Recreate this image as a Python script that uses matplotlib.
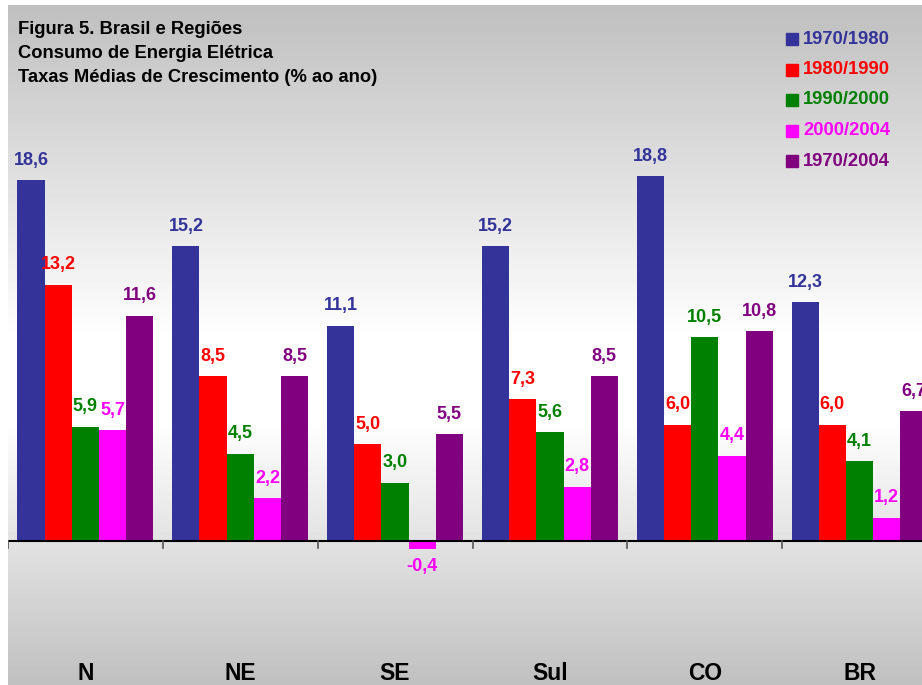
import numpy as np
import matplotlib
matplotlib.use("Agg")
import matplotlib.pyplot as plt
from matplotlib.patches import Rectangle

plt.rcParams['font.family'] = ['Liberation Sans', 'DejaVu Sans']

categories = ["N", "NE", "SE", "Sul", "CO", "BR"]
series_names = ["1970/1980", "1980/1990", "1990/2000", "2000/2004", "1970/2004"]
colors = ["#333399", "#FF0000", "#008000", "#FF00FF", "#800080"]
v_1970_1980 = [18.6, 15.2, 11.1, 15.2, 18.8, 12.3]
v_1980_1990 = [13.2, 8.5, 5.0, 7.3, 6.0, 6.0]
v_1990_2000 = [5.9, 4.5, 3.0, 5.6, 10.5, 4.1]
v_2000_2004 = [5.7, 2.2, -0.4, 2.8, 4.4, 1.2]
v_1970_2004 = [11.6, 8.5, 5.5, 8.5, 10.8, 6.7]
series = [v_1970_1980, v_1980_1990, v_1990_2000, v_2000_2004, v_1970_2004]
title_lines = ["Figura 5. Brasil e Regiões",
               "Consumo de Energia Elétrica",
               "Taxas Médias de Crescimento (% ao ano)"]

W, H = 922, 685
fig = plt.figure(figsize=(W / 100, H / 100), dpi=100)
fig.patch.set_facecolor("white")

# background gradient panel
bg = fig.add_axes([8 / W, 0, (W - 8) / W, (H - 5) / H])
bg.set_axis_off()
ys = np.arange(5, H)
grad = np.interp(ys, [5, 340, 420, H], [0.75, 1.0, 1.0, 0.75])
img = np.repeat(grad[:, None], 2, axis=1)
bg.imshow(img, cmap="gray", vmin=0, vmax=1, aspect="auto", extent=[0, 1, 0, 1])
bg.set_xlim(0, 1); bg.set_ylim(0, 1)

# main axes
zero_px = 541
ppu = 19.4
ax = fig.add_axes([8 / W, 0, (937 - 8) / W, (H - 5) / H])
ax.set_facecolor("none")
ax.set_xlim(0, 6)
ax.set_ylim(-(H - zero_px) / ppu, (zero_px - 5) / ppu)
for s in ["left", "right", "top", "bottom"]:
    ax.spines[s].set_visible(False)
ax.set_xticks([])
ax.set_yticks([])

bw = 0.1755
x0 = np.arange(len(categories)) + 0.5
for j, (vals, col) in enumerate(zip(series, colors)):
    xs = x0 + (j - 2) * bw
    ax.bar(xs, vals, width=bw, color=col, zorder=3, clip_on=False)
    for x, v in zip(xs, vals):
        lab = f"{v:.1f}".replace(".", ",")
        if v >= 0:
            ax.text(x, v + 20 / ppu, lab, ha="center", va="center", color=col,
                    fontsize=13, fontweight="bold", zorder=4)
        else:
            ax.text(x, v - 18 / ppu, lab, ha="center", va="center", color=col,
                    fontsize=13, fontweight="bold", zorder=4)

# zero axis line and ticks
ax.axhline(0, color="black", lw=1.5, zorder=5)
for t in range(7):
    ax.plot([t, t], [0, -7 / ppu], color="#555555", lw=1.2, zorder=5)

# category labels
for x, c in zip(x0, categories):
    ax.text(x, -(673 - zero_px) / ppu, c, ha="center", va="center",
            fontsize=16.5, fontweight="bold", color="black")

# title
for i, line in enumerate(title_lines):
    fig.text(18 / W, 1 - (30 + 24 * i) / H, line, ha="left", va="center",
             fontsize=13.2, fontweight="bold", color="black")

# legend
for i, (name, col) in enumerate(zip(series_names, colors)):
    yc = 39 + 30.5 * i
    fig.patches.append(Rectangle((786 / W, 1 - (yc + 6) / H), 12 / W, 12 / H,
                                 transform=fig.transFigure, color=col))
    fig.text(803 / W, 1 - yc / H, name, ha="left", va="center",
             fontsize=13.2, fontweight="bold", color=col)

fig.savefig("out.png", dpi=100)
